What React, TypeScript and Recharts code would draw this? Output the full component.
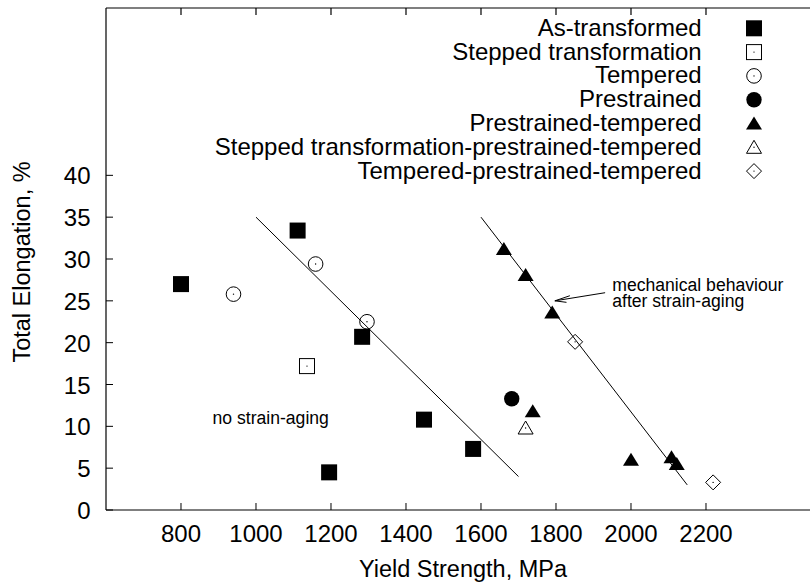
import React from 'react';
import { ScatterChart, Scatter, XAxis, YAxis, ReferenceLine, ReferenceDot } from 'recharts';

const FONT = '"Liberation Sans", Arial, Helvetica, sans-serif';
const BIG = 24;
const SMALL = 17.6;

// tick labels
const xTicks = [800, 1000, 1200, 1400, 1600, 1800, 2000, 2200];
const yTicks = [0, 5, 10, 15, 20, 25, 30, 35, 40];

// series (Yield Strength MPa, Total Elongation %)
const asTransformed = [
  { x: 800, y: 27.0 }, { x: 1111, y: 33.4 }, { x: 1283, y: 20.7 },
  { x: 1448, y: 10.8 }, { x: 1195, y: 4.5 }, { x: 1579, y: 7.3 },
];
const steppedTransformation = [{ x: 1136, y: 17.2 }];
const tempered = [{ x: 940, y: 25.8 }, { x: 1159, y: 29.4 }, { x: 1296, y: 22.5 }];
const prestrained = [{ x: 1682, y: 13.3 }];
const prestrainedTempered = [
  { x: 1661, y: 31.2 }, { x: 1719, y: 28.1 }, { x: 1790, y: 23.6 },
  { x: 1738, y: 11.8 }, { x: 2000, y: 6.0 }, { x: 2108, y: 6.3 }, { x: 2122, y: 5.5 },
];
const steppedPrestrainedTempered = [{ x: 1719, y: 9.8 }];
const temperedPrestrainedTempered = [{ x: 1851, y: 20.1 }, { x: 2219, y: 3.3 }];

// fit lines
const fitNoAging = [{ x: 1000, y: 35 }, { x: 1700, y: 4 }];
const fitAging = [{ x: 1600, y: 35 }, { x: 2150, y: 3 }];

// annotation arrow (tail -> tip) and barbs
const arrowShaft = [{ x: 1931, y: 25.97 }, { x: 1797, y: 25.0 }];
const arrowBarbUp = [{ x: 1797, y: 25.0 }, { x: 1837, y: 25.61 }];
const arrowBarbDown = [{ x: 1797, y: 25.0 }, { x: 1828, y: 24.82 }];

// annotation anchors
const noAgingLabel = { x: 884, y: 10.24, lines: ['no strain-aging'] };
const agingLabel = { x: 1950, y: 26.17, lines: ['mechanical behaviour', 'after strain-aging'] };

const legendNames = [
  'As-transformed',
  'Stepped transformation',
  'Tempered',
  'Prestrained',
  'Prestrained-tempered',
  'Stepped transformation-prestrained-tempered',
  'Tempered-prestrained-tempered',
];
const legendKinds = ['fsq', 'osq', 'ocirc', 'fcirc', 'ftri', 'otri', 'odia'];

const X_DOMAIN: [number, number] = [600, 2530.7];
const Y_DOMAIN: [number, number] = [0, 60];
const TOP_TICK_LEN = 0.84; // in y units (about 7px)

function marker(kind: string, cx: number, cy: number) {
  const dot = <circle cx={cx} cy={cy} r={0.7} fill="#000" />;
  switch (kind) {
    case 'fsq':
      return <rect x={cx - 8} y={cy - 8} width={16} height={16} fill="#000" />;
    case 'osq':
      return (
        <g>
          <rect x={cx - 7.5} y={cy - 7.5} width={15} height={15} fill="none" stroke="#000" strokeWidth={1} />
          {dot}
        </g>
      );
    case 'ocirc':
      return (
        <g>
          <circle cx={cx} cy={cy} r={7.3} fill="none" stroke="#000" strokeWidth={1} />
          {dot}
        </g>
      );
    case 'fcirc':
      return <circle cx={cx} cy={cy} r={7.7} fill="#000" />;
    case 'ftri':
      return <polygon points={`${cx},${cy - 7} ${cx - 8},${cy + 6} ${cx + 8},${cy + 6}`} fill="#000" />;
    case 'otri':
      return (
        <g>
          <polygon points={`${cx},${cy - 7} ${cx - 7.5},${cy + 6} ${cx + 7.5},${cy + 6}`} fill="none" stroke="#000" strokeWidth={1} />
          {dot}
        </g>
      );
    case 'odia':
      return (
        <g>
          <polygon points={`${cx},${cy - 7.5} ${cx + 7.5},${cy} ${cx},${cy + 7.5} ${cx - 7.5},${cy}`} fill="none" stroke="#000" strokeWidth={1} />
          {dot}
        </g>
      );
  }
  return null;
}

const shapeFor = (kind: string) => (p: any) => marker(kind, p.cx, p.cy);

const XTick = (p: any) => (
  <g>
    <line x1={p.x} y1={p.y} x2={p.x} y2={p.y - 7} stroke="#000" strokeWidth={1} />
    <text x={p.x} y={p.y + 32} textAnchor="middle" fontFamily={FONT} fontSize={BIG} fill="#000">
      {p.payload.value}
    </text>
  </g>
);
const YTick = (p: any) => (
  <g>
    <line x1={p.x} y1={p.y} x2={p.x + 7} y2={p.y} stroke="#000" strokeWidth={1} />
    <text x={p.x - 15.5} y={p.y + 9} textAnchor="end" fontFamily={FONT} fontSize={BIG} fill="#000">
      {p.payload.value}
    </text>
  </g>
);

const textShape = (lines: string[]) => (p: any) => (
  <text x={p.cx} y={p.cy} fontFamily={FONT} fontSize={SMALL} fill="#000">
    {lines.map((t, i) => (
      <tspan key={i} x={p.cx} dy={i === 0 ? 0 : 15.7}>
        {t}
      </tspan>
    ))}
  </text>
);

export default function App() {
  const W = 810;
  const H = 587;
  const CW = 830; // plot runs past the right edge of the picture, as in the reference
  return (
    <div style={{ position: 'absolute', left: 0, top: 0, width: W, height: H, background: '#fff', overflow: 'hidden' }}>
      <ScatterChart width={CW} height={H} margin={{ top: 8, right: 0, bottom: 47, left: 66 }}>
        <XAxis
          type="number"
          dataKey="x"
          domain={X_DOMAIN}
          allowDataOverflow
          ticks={xTicks}
          height={30}
          tickSize={0}
          tickMargin={0}
          tick={<XTick />}
          axisLine={{ stroke: '#000', strokeWidth: 1.2 }}
          label={{
            content: () => (
              <text x={463} y={577} textAnchor="middle" fontFamily={FONT} fontSize={23.5} fill="#000">
                Yield Strength, MPa
              </text>
            ),
          }}
        />
        <YAxis
          type="number"
          dataKey="y"
          domain={Y_DOMAIN}
          allowDataOverflow
          ticks={yTicks}
          width={40}
          tickSize={0}
          tickMargin={0}
          tick={<YTick />}
          axisLine={{ stroke: '#000', strokeWidth: 1.2 }}
          label={{
            content: () => (
              <text x={30} y={262} transform="rotate(-90 30 262)" textAnchor="middle" fontFamily={FONT} fontSize={23.5} fill="#000">
                Total Elongation, %
              </text>
            ),
          }}
        />
        <ReferenceLine y={Y_DOMAIN[1]} stroke="#000" strokeWidth={1.2} />
        {xTicks.map((t) => (
          <ReferenceLine
            key={t}
            segment={[{ x: t, y: Y_DOMAIN[1] }, { x: t, y: Y_DOMAIN[1] - TOP_TICK_LEN }]}
            stroke="#000"
            strokeWidth={1.2}
            ifOverflow="visible"
          />
        ))}
        <ReferenceLine segment={fitNoAging} stroke="#000" strokeWidth={1} ifOverflow="visible" />
        <ReferenceLine segment={fitAging} stroke="#000" strokeWidth={1} ifOverflow="visible" />
        <ReferenceLine segment={arrowShaft} stroke="#000" strokeWidth={1} ifOverflow="visible" />
        <ReferenceLine segment={arrowBarbUp} stroke="#000" strokeWidth={1} ifOverflow="visible" />
        <ReferenceLine segment={arrowBarbDown} stroke="#000" strokeWidth={1} ifOverflow="visible" />
        <ReferenceDot x={noAgingLabel.x} y={noAgingLabel.y} shape={textShape(noAgingLabel.lines)} ifOverflow="visible" />
        <ReferenceDot x={agingLabel.x} y={agingLabel.y} shape={textShape(agingLabel.lines)} ifOverflow="visible" />
        <Scatter name={legendNames[0]} data={asTransformed} shape={shapeFor('fsq')} isAnimationActive={false} />
        <Scatter name={legendNames[1]} data={steppedTransformation} shape={shapeFor('osq')} isAnimationActive={false} />
        <Scatter name={legendNames[2]} data={tempered} shape={shapeFor('ocirc')} isAnimationActive={false} />
        <Scatter name={legendNames[3]} data={prestrained} shape={shapeFor('fcirc')} isAnimationActive={false} />
        <Scatter name={legendNames[4]} data={prestrainedTempered} shape={shapeFor('ftri')} isAnimationActive={false} />
        <Scatter name={legendNames[5]} data={steppedPrestrainedTempered} shape={shapeFor('otri')} isAnimationActive={false} />
        <Scatter name={legendNames[6]} data={temperedPrestrainedTempered} shape={shapeFor('odia')} isAnimationActive={false} />
      </ScatterChart>
      <svg width={W} height={200} style={{ position: 'absolute', left: 0, top: 0, pointerEvents: 'none' }}>
        {legendNames.map((name, i) => {
          const cy = 28.3 + i * 23.8;
          return (
            <g key={name}>
              <text x={701.7} y={cy + 7.4} textAnchor="end" fontFamily={FONT} fontSize={BIG} fill="#000">
                {name}
              </text>
              {marker(legendKinds[i], 754, cy)}
            </g>
          );
        })}
      </svg>
    </div>
  );
}
